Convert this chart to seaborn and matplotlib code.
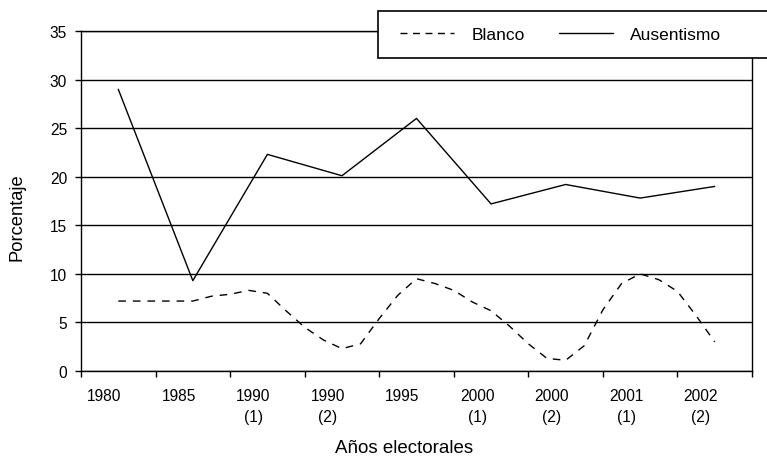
import numpy as np
import pandas as pd
import matplotlib
matplotlib.use("Agg")
import matplotlib.pyplot as plt
import matplotlib.transforms as mtransforms
from matplotlib.patches import Rectangle
from matplotlib.lines import Line2D
import seaborn as sns

# election labels (x categories)
years = ["1980", "1985", "1990\n(1)", "1990\n(2)", "1995",
         "2000\n(1)", "2000\n(2)", "2001\n(1)", "2002\n(2)"]

# Ausentismo, one value per election
ausentismo = [29.0, 9.3, 22.3, 20.1, 26.0, 17.2, 19.2, 17.8, 19.0]

# Blanco, every quarter of a category
blanco_step = 0.25
blanco = [7.2, 7.2, 7.2, 7.2, 7.2, 7.7, 7.9, 8.3,
          8.0, 6.2, 4.5, 3.2, 2.3, 2.8, 5.4, 7.8,
          9.5, 9.0, 8.3, 7.1, 6.2, 4.6, 2.8, 1.3,
          1.1, 2.6, 6.3, 9.0, 10.0, 9.4, 8.2, 5.7,
          3.0]

sns.set_style("white", {"text.color": "black", "axes.labelcolor": "black",
                        "xtick.color": "black", "ytick.color": "black"})
plt.rcParams["font.family"] = ["Liberation Sans", "DejaVu Sans"]

fig = plt.figure(figsize=(7.67, 4.6), dpi=100)
ax = fig.add_axes([81 / 767, 1 - 372 / 460, 671 / 767, 340 / 460])

pos = np.arange(len(years))
df_aus = pd.DataFrame({"pos": pos, "val": ausentismo})
df_bl = pd.DataFrame({"pos": np.arange(len(blanco)) * blanco_step, "val": blanco})

sns.lineplot(data=df_bl, x="pos", y="val", ax=ax, color="black", lw=1.0)
ax.lines[-1].set_dashes([5.5, 5])
sns.lineplot(data=df_aus, x="pos", y="val", ax=ax, color="black", lw=1.0)

ax.set_xlim(-0.5, len(years) - 0.5)
ax.set_ylim(0, 35)
ax.set_yticks(range(0, 36, 5))
ax.yaxis.grid(True, color="black", lw=1)
ax.set_axisbelow(True)

# ticks at category boundaries, labels at centres (shifted a bit left)
ax.set_xticks(np.arange(-0.5, len(years), 1))
ax.set_xticklabels([])
ax.set_xticks(pos, minor=True)
ax.set_xticklabels(years, minor=True, linespacing=1.5)
ax.tick_params(axis="x", which="major", direction="out", length=4, width=1,
               color="black", bottom=True)
ax.tick_params(axis="x", which="minor", length=0, pad=12, labelsize=11.2)
shift = mtransforms.ScaledTranslation(-14 / 100, 0, fig.dpi_scale_trans)
for lbl in ax.get_xticklabels(minor=True):
    lbl.set_transform(lbl.get_transform() + shift)
ax.tick_params(axis="y", direction="out", length=4, width=1, color="black",
               pad=6, labelsize=11.2, left=True)

for s in ax.spines.values():
    s.set_color("black")
    s.set_linewidth(1)

ax.set_xlabel("Años electorales", fontsize=13.5)
ax.set_ylabel("Porcentaje", fontsize=13.2)
ax.xaxis.set_label_coords(0.481, -0.2)
ax.yaxis.set_label_coords(-0.082, 0.456)

# legend box running off the right edge
rect = Rectangle((378 / 767, 1 - 59 / 460), (800 - 378) / 767, 47 / 460,
                 transform=fig.transFigure, facecolor="white",
                 edgecolor="black", lw=1.2, zorder=5, clip_on=False)
fig.add_artist(rect)
handles = [Line2D([], [], color="black", lw=1.0, dashes=[5, 4]),
           Line2D([], [], color="black", lw=1.0)]
leg = fig.legend(handles, ["Blanco", "Ausentismo"], loc="center left",
                 bbox_to_anchor=(400 / 767, 1 - 35 / 460), ncol=2,
                 frameon=False, fontsize=12.5, handlelength=3.1,
                 handletextpad=1.0, columnspacing=2.0,
                 borderaxespad=0, borderpad=0)
leg.set_zorder(6)

fig.savefig("out.png", dpi=100)
